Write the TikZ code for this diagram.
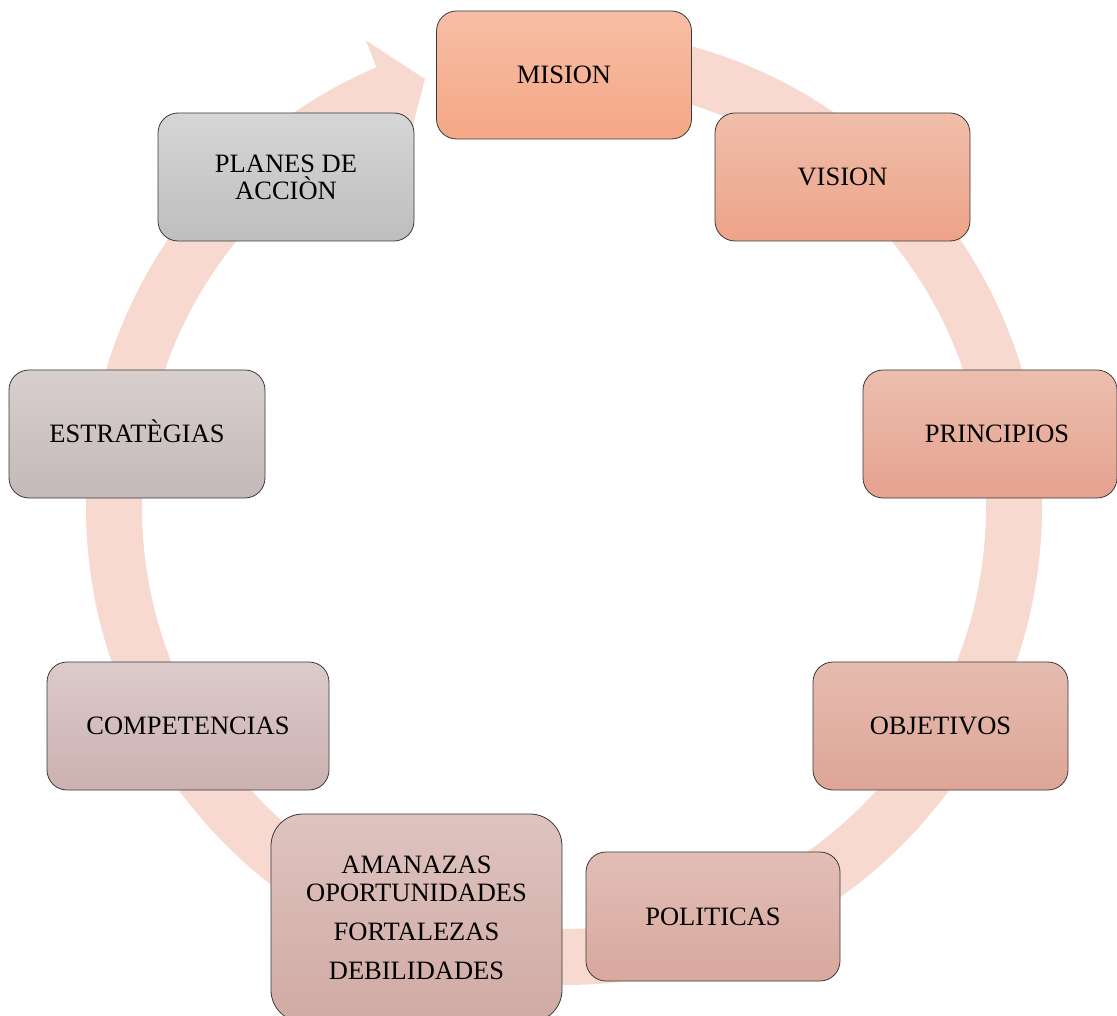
\documentclass[tikz,border=0pt]{standalone}
\usepackage{fontspec}
\setmainfont{Liberation Serif}
\definecolor{ringpink}{HTML}{F7D9CF}
\definecolor{boxline}{HTML}{3A3A3A}
\definecolor{misA}{HTML}{F7BEA5}\definecolor{misB}{HTML}{F5A786}
\definecolor{visA}{HTML}{F0BEAA}\definecolor{visB}{HTML}{EEA389}
\definecolor{priA}{HTML}{ECBEAE}\definecolor{priB}{HTML}{E5A28F}
\definecolor{objA}{HTML}{E6BCB0}\definecolor{objB}{HTML}{DDA597}
\definecolor{polA}{HTML}{E2BEB6}\definecolor{polB}{HTML}{D8A89D}
\definecolor{fodA}{HTML}{DEC3BF}\definecolor{fodB}{HTML}{D1AAA4}
\definecolor{comA}{HTML}{DCCBCA}\definecolor{comB}{HTML}{CBB1B0}
\definecolor{estA}{HTML}{D9CFCF}\definecolor{estB}{HTML}{C4B8B8}
\definecolor{plaA}{HTML}{D6D6D6}\definecolor{plaB}{HTML}{BEBEBE}
\tikzset{
  stagebox/.style n args={2}{draw=boxline, line width=0.8pt, rounded corners=20pt,
    top color=#1, bottom color=#2, minimum width=255pt, minimum height=128pt,
    inner sep=0pt, align=center, font=\fontsize{26.5}{27}\selectfont},
  ring/.style={draw=ringpink, line width=56pt},
}
\begin{document}
\begin{tikzpicture}[x=1pt,y=1pt]
\useasboundingbox (0,0) rectangle (1117,-1016);
\clip (0,0) rectangle (1117,-1016);
\coordinate (C) at (564,-507);

% circular arrow running clockwise round the cycle
\begin{scope}[shift={(C)}]
  \draw[ring] (88:450) arc[start angle=88, end angle=-247.5, radius=450];
  \fill[ringpink] (113:507) -- (108:450) -- (113.5:393) -- cycle;
\end{scope}

% stages of the cycle
\node[stagebox={misA}{misB}] (mision) at (564,-75) {MISION};
\node[stagebox={visA}{visB}] (vision) at (842.5,-177) {VISION};
\node[stagebox={priA}{priB}, minimum width=254pt] (principios) at (990,-434) {\hspace*{14pt}PRINCIPIOS};
\node[stagebox={objA}{objB}] (objetivos) at (940.5,-726) {OBJETIVOS};
\node[stagebox={polA}{polB}, minimum width=254pt, minimum height=129pt] (politicas) at (713,-916.5) {POLITICAS};
\node[stagebox={fodA}{fodB}, minimum width=291pt, minimum height=208pt, rounded corners=32pt,
      font=\fontsize{26.5}{28}\selectfont] (foda) at (416.5,-918)
  {AMANAZAS\\OPORTUNIDADES\\[11pt]FORTALEZAS\\[11pt]DEBILIDADES};
\node[stagebox={comA}{comB}, minimum width=282pt] (competencias) at (188,-726) {COMPETENCIAS};
\node[stagebox={estA}{estB}, minimum width=256pt] (estrategias) at (137,-434) {ESTRAT\smash{È}GIAS};
\node[stagebox={plaA}{plaB}, minimum width=256pt] (planes) at (286,-177) {PLANES DE\\ACCIÒN};
\end{tikzpicture}
\end{document}
